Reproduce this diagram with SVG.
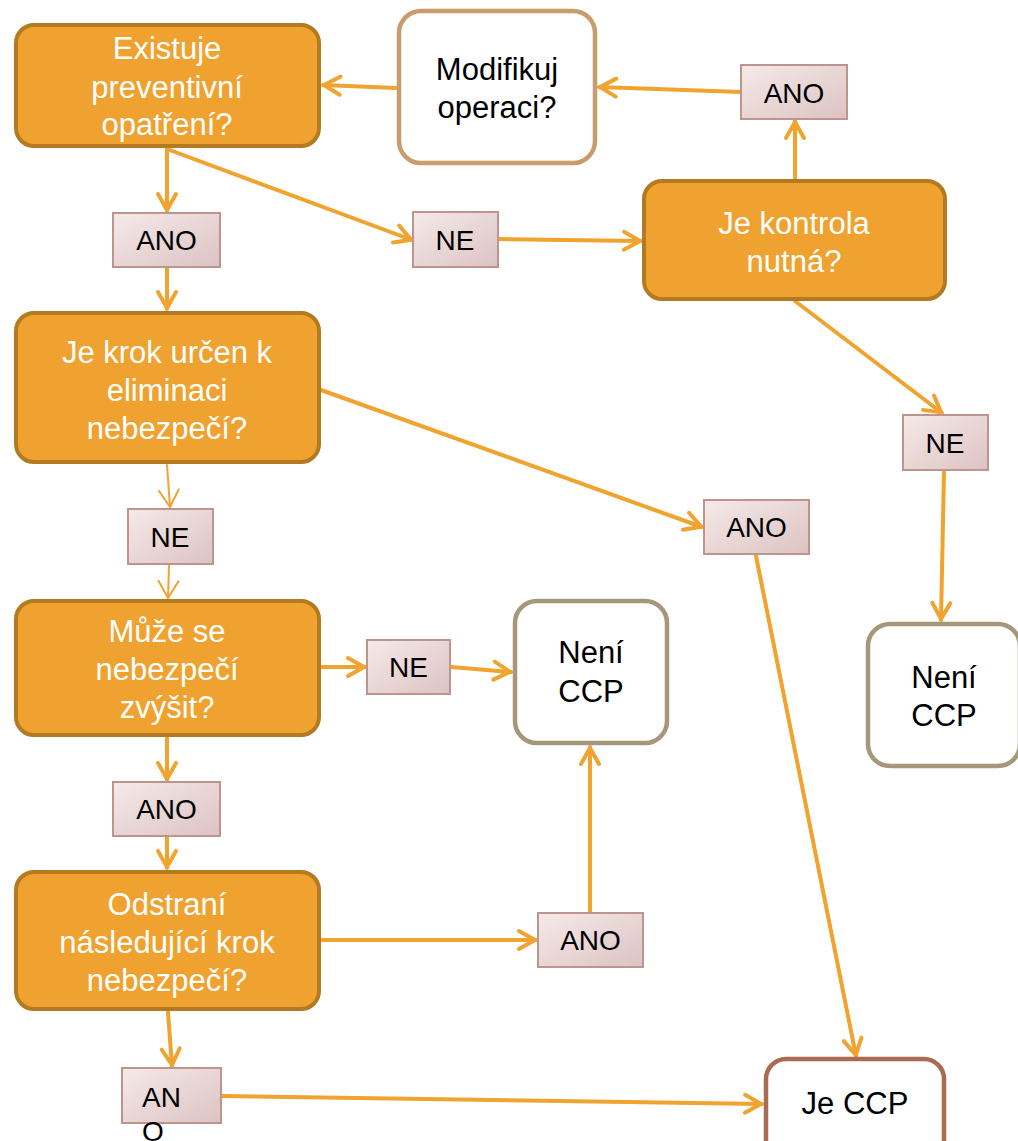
<svg xmlns="http://www.w3.org/2000/svg" width="1018" height="1141" viewBox="0 0 1018 1141">
<defs>
<linearGradient id="lg" x1="0" y1="0" x2="1" y2="1">
<stop offset="0" stop-color="#F5EAE9"/>
<stop offset="1" stop-color="#DCC3C2"/>
</linearGradient>
<marker id="ah" markerUnits="userSpaceOnUse" viewBox="-24 -14 28 28" markerWidth="28" markerHeight="28" refX="0" refY="0" orient="auto">
<path d="M-17,-9 L-1,0 L-17,9" fill="none" stroke="#F0A32F" stroke-width="4" stroke-linecap="round" stroke-linejoin="round"/>
</marker>
<marker id="aht" markerUnits="userSpaceOnUse" viewBox="-24 -14 28 28" markerWidth="28" markerHeight="28" refX="0" refY="0" orient="auto">
<path d="M-17,-10 L0,0 L-17,10" fill="none" stroke="#F0A32F" stroke-width="2" stroke-linecap="round" stroke-linejoin="round"/>
</marker>
</defs>
<style>
.dec rect{fill:#EFA22F;stroke:#B47A22;stroke-width:4}
.dec text{fill:#FFFFFF;font-family:"Liberation Sans",Arial,sans-serif;font-size:31px;text-anchor:middle}
.term text{fill:#000000;font-family:"Liberation Sans",Arial,sans-serif;font-size:31px;text-anchor:middle}
.term rect{fill:#FFFFFF;stroke-width:4.5}
.lbl rect{fill:url(#lg);stroke:#BE958E;stroke-width:2}
.lbl text{fill:#000000;font-family:"Liberation Sans",Arial,sans-serif;font-size:28px;text-anchor:middle}
.c line{stroke:#F0A32F;stroke-width:4;stroke-linecap:round;marker-end:url(#ah)}
.c line.thin{stroke-width:2;marker-end:url(#aht)}
</style>
<g id="connectors" class="c">
<line x1="397" y1="88" x2="323" y2="85"/>
<line x1="741" y1="92" x2="599" y2="87"/>
<line x1="795" y1="179" x2="795" y2="121"/>
<line x1="167" y1="149" x2="167" y2="211"/>
<line x1="167" y1="149" x2="412" y2="240"/>
<line x1="499" y1="239" x2="641" y2="241"/>
<line x1="167" y1="268" x2="167" y2="309"/>
<line x1="795" y1="301" x2="942" y2="413"/>
<line x1="944" y1="472" x2="941" y2="620"/>
<line x1="321" y1="390" x2="702" y2="527"/>
<line class="thin" x1="167" y1="465" x2="170" y2="507"/>
<line class="thin" x1="169" y1="565" x2="168" y2="598"/>
<line x1="322" y1="667" x2="365" y2="667"/>
<line x1="451" y1="667" x2="511" y2="672"/>
<line x1="167" y1="738" x2="167" y2="780"/>
<line x1="167" y1="837" x2="167" y2="868"/>
<line x1="322" y1="940" x2="536" y2="940"/>
<line x1="590" y1="912" x2="590" y2="747"/>
<line x1="168" y1="1012" x2="172" y2="1066"/>
<line x1="222" y1="1096" x2="762" y2="1104"/>
<line x1="756" y1="556" x2="856" y2="1056"/>
</g>
<g id="n_existuje" class="dec">
<rect x="16" y="25" width="303" height="121" rx="18"/>
<text x="167" y="59">Existuje</text>
<text x="167" y="98">preventivní</text>
<text x="167" y="135">opatření?</text>
</g>
<g id="n_modifikuj" class="term">
<rect x="399" y="11" width="196" height="152" rx="22" stroke="#C99C6E"/>
<text x="497" y="80">Modifikuj</text>
<text x="497" y="118">operaci?</text>
</g>
<g id="n_kontrola" class="dec">
<rect x="644" y="181" width="301" height="118" rx="18"/>
<text x="794" y="234">Je kontrola</text>
<text x="794" y="272">nutná?</text>
</g>
<g id="n_krok" class="dec">
<rect x="16" y="313" width="303" height="149" rx="18"/>
<text x="167" y="363">Je krok určen k</text>
<text x="167" y="401">eliminaci</text>
<text x="167" y="439">nebezpečí?</text>
</g>
<g id="n_muze" class="dec">
<rect x="16" y="601" width="303" height="134" rx="18"/>
<text x="167" y="642">Může se</text>
<text x="167" y="680">nebezpečí</text>
<text x="167" y="718">zvýšit?</text>
</g>
<g id="n_odstrani" class="dec">
<rect x="16" y="872" width="303" height="137" rx="18"/>
<text x="167" y="915">Odstraní</text>
<text x="167" y="953">následující krok</text>
<text x="167" y="991">nebezpečí?</text>
</g>
<g id="n_neni1" class="term">
<rect x="515" y="601" width="152" height="142" rx="22" stroke="#A5977A"/>
<text x="591" y="663">Není</text>
<text x="591" y="702">CCP</text>
</g>
<g id="n_neni2" class="term">
<rect x="868" y="624" width="152" height="142" rx="22" stroke="#A5977A"/>
<text x="944" y="688">Není</text>
<text x="944" y="726">CCP</text>
</g>
<g id="n_jeccp" class="term">
<rect x="766" y="1059" width="178" height="110" rx="20" stroke="#A96B52"/>
<text x="855" y="1114">Je CCP</text>
</g>
<g id="l_ano1" class="lbl">
<rect x="113" y="213" width="107" height="54"/>
<text x="166.5" y="250">ANO</text>
</g>
<g id="l_ne1" class="lbl">
<rect x="413" y="212" width="85" height="55"/>
<text x="455" y="250">NE</text>
</g>
<g id="l_ano2" class="lbl">
<rect x="741" y="65" width="106" height="54"/>
<text x="794" y="103">ANO</text>
</g>
<g id="l_ne2" class="lbl">
<rect x="903" y="415" width="85" height="55"/>
<text x="945" y="453">NE</text>
</g>
<g id="l_ne3" class="lbl">
<rect x="128" y="509" width="85" height="55"/>
<text x="170" y="547">NE</text>
</g>
<g id="l_ano3" class="lbl">
<rect x="704" y="500" width="105" height="54"/>
<text x="756.5" y="537">ANO</text>
</g>
<g id="l_ne4" class="lbl">
<rect x="367" y="640" width="83" height="54"/>
<text x="408.5" y="677">NE</text>
</g>
<g id="l_ano4" class="lbl">
<rect x="113" y="782" width="107" height="54"/>
<text x="166.5" y="819">ANO</text>
</g>
<g id="l_ano5" class="lbl">
<rect x="538" y="913" width="105" height="54"/>
<text x="590.5" y="950">ANO</text>
</g>
<g id="l_ano6" class="lbl">
<rect x="122" y="1068" width="99" height="55"/>
<text x="142" y="1107" style="text-anchor:start">AN</text>
<text x="142" y="1141" style="text-anchor:start">O</text>
</g>
</svg>
